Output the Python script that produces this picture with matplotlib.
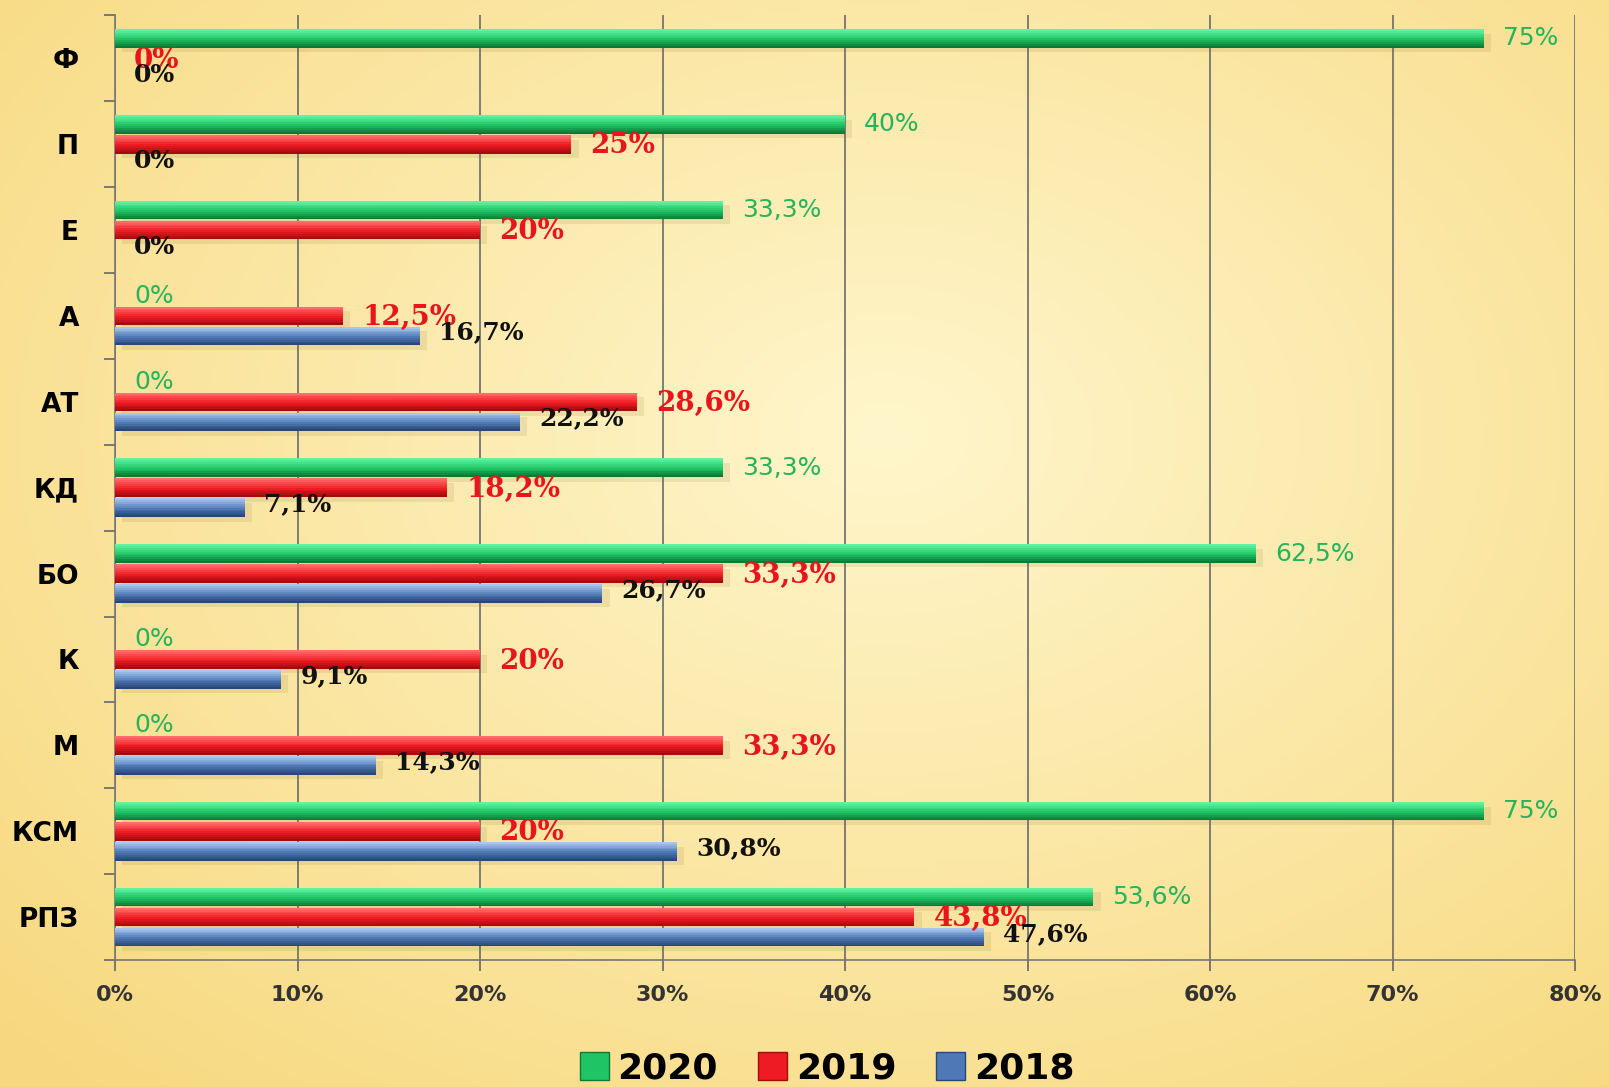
import matplotlib

matplotlib.use("Agg")

import matplotlib.pyplot as plt
import numpy as np
from matplotlib.colors import to_rgb
from matplotlib.patches import Patch

# data (bottom to top)
categories = ["РПЗ", "КСМ", "М", "К", "БО", "КД", "АТ", "А", "Е", "П", "Ф"]
values_2020 = [53.6, 75, 0, 0, 62.5, 33.3, 0, 0, 33.3, 40, 75]
values_2019 = [43.8, 20, 33.3, 20, 33.3, 18.2, 28.6, 12.5, 20, 25, 0]
values_2018 = [47.6, 30.8, 14.3, 9.1, 26.7, 7.1, 22.2, 16.7, 0, 0, 0]
years = ["2020", "2019", "2018"]
x_ticks = [0, 10, 20, 30, 40, 50, 60, 70, 80]

SANS = ["DejaVu Sans"]
SERIF = ["DejaVu Serif"]


def fmt(v: float) -> str:
    if float(v).is_integer():
        return f"{int(v)}%"
    return f"{v:.1f}%".replace(".", ",")


def mix(c1, c2, t):
    a, b = np.array(to_rgb(c1)), np.array(to_rgb(c2))
    return tuple(a * (1 - t) + b * t)


fig = plt.figure(figsize=(16.09, 10.87), dpi=100)

# yellow gradient background
bg = fig.add_axes([0, 0, 1, 1], zorder=-10)
gx, gy = np.meshgrid(np.linspace(0, 1, 400), np.linspace(0, 1, 300))
dist = np.sqrt(((gx - 0.55) / 0.75) ** 2 + ((gy - 0.6) / 0.8) ** 2)
t = np.clip(dist, 0, 1)[..., None]
inner = np.array([1.0, 0.965, 0.80])
outer = np.array([0.97, 0.85, 0.50])
bg.imshow(inner * (1 - t) + outer * t, aspect="auto", extent=[0, 1, 0, 1], origin="lower")
bg.axis("off")

ax = fig.add_axes([0.0715, 0.1168, 0.9074, 0.869])
ax.set_facecolor("none")

y = np.arange(len(categories))
offset = 0.233
height = 0.215
n_slices = 10

# values, offset, top colour, middle colour, bottom colour, label colour, font, size, dy
series = [
    (values_2020, offset, "#5ff2a0", "#1fc465", "#0b7a35", "#27b35c", SANS, "normal", 18, 0.0),
    (values_2019, 0.0, "#ff6a6a", "#ee1c22", "#a50a0e", "#e8161c", SERIF, "bold", 20, 0.02),
    (values_2018, -offset, "#a6c6ee", "#4f79b6", "#2a4676", "#111111", SERIF, "bold", 18, -0.04),
]

for vals, off, top_c, mid_c, bot_c, txt_color, family, weight, size, dy in series:
    pos = y + off
    # soft shadow below each bar
    ax.barh(pos - height * 0.25, vals, height=height, left=0.4, color="#7a6a30",
            alpha=0.12, linewidth=0, zorder=2)
    # cylinder look from thin horizontal slices
    for k in range(n_slices):
        frac = k / (n_slices - 1)  # 0 bottom, 1 top
        if frac > 0.45:
            col = mix(mid_c, top_c, (frac - 0.45) / 0.55)
        else:
            col = mix(bot_c, mid_c, frac / 0.45)
        yy = pos - height / 2 + height * (k + 0.5) / n_slices
        ax.barh(yy, vals, height=height / n_slices * 1.05, color=col, linewidth=0, zorder=3)
    for yi, v in zip(pos, vals):
        ax.text(v + 1.05, yi - dy, fmt(v), color=txt_color, fontsize=size, fontweight=weight,
                family=family, va="center", ha="left", zorder=6)

ax.set_xlim(0, 80)
ax.set_ylim(-0.5, len(categories) - 0.5)
ax.set_xticks(x_ticks)
ax.set_xticklabels([f"{v}%" for v in x_ticks], fontsize=16, fontweight="bold",
                   color="#333333", family=SANS)
ax.set_yticks(y)
ax.set_yticklabels(categories, fontsize=19, fontweight="bold", family=SANS)
ax.set_yticks(np.arange(-0.5, len(categories), 1), minor=True)
ax.tick_params(axis="y", which="major", length=0, pad=26)
ax.tick_params(axis="y", which="minor", length=8, color="#666666", width=1.2)
ax.tick_params(axis="x", length=8, color="#666666", width=1.2, pad=10)
ax.grid(axis="x", color="#6b6b6b", linewidth=1.2, zorder=1)
for side in ("top", "right"):
    ax.spines[side].set_visible(False)
for side in ("left", "bottom"):
    ax.spines[side].set_color("#777777")
    ax.spines[side].set_linewidth(1.2)

handles = [
    Patch(facecolor="#1fc465", edgecolor="#0b7a35", label=years[0]),
    Patch(facecolor="#ee1c22", edgecolor="#a50a0e", label=years[1]),
    Patch(facecolor="#4f79b6", edgecolor="#2a4676", label=years[2]),
]
fig.legend(handles=handles, loc="center", bbox_to_anchor=(0.514, 0.017), ncol=3,
           frameon=False, handlelength=0.8, handleheight=0.8, handletextpad=0.25,
           columnspacing=1.1, prop={"family": SANS, "weight": "bold", "size": 26})

fig.savefig("out.png", dpi=100)
plt.close(fig)
